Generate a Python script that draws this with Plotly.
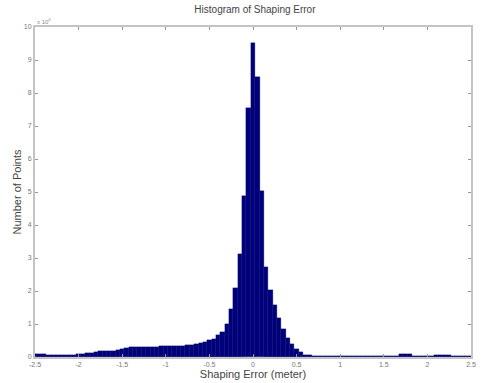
import plotly.graph_objects as go

# Bin centers (meters), bin width 0.05
bin_width = 0.05
bin_centers = [round(-2.5 + i * 0.05, 2) for i in range(101)]

# Counts (units of 1e4 points)
counts_e4 = [
    # -2.5 .. -2.05
    0.10, 0.10, 0.08, 0.07, 0.065, 0.06, 0.06, 0.065, 0.07, 0.075,
    # -2.0 .. -1.55
    0.08, 0.09, 0.11, 0.13, 0.15, 0.17, 0.18, 0.18, 0.19, 0.20,
    # -1.5 .. -1.05
    0.23, 0.27, 0.29, 0.30, 0.30, 0.29, 0.30, 0.31, 0.31, 0.32,
    # -1.0 .. -0.55
    0.32, 0.33, 0.34, 0.34, 0.34, 0.35, 0.37, 0.39, 0.42, 0.46,
    # -0.5 .. -0.05
    0.51, 0.56, 0.66, 0.76, 0.99, 1.44, 2.08, 3.11, 4.87, 7.56,
    # 0.0 .. 0.45
    9.53, 8.48, 5.02, 2.73, 2.04, 1.59, 1.19, 0.84, 0.59, 0.39,
    # 0.5 .. 0.95
    0.24, 0.14, 0.07, 0.05, 0.04, 0.03, 0.03, 0.025, 0.025, 0.02,
    # 1.0 .. 1.45
    0.02, 0.02, 0.02, 0.02, 0.025, 0.02, 0.02, 0.02, 0.025, 0.025,
    # 1.5 .. 1.95
    0.025, 0.03, 0.03, 0.04, 0.08, 0.10, 0.08, 0.03, 0.03, 0.03,
    # 2.0 .. 2.45
    0.03, 0.04, 0.05, 0.06, 0.06, 0.05, 0.03, 0.025, 0.02, 0.02,
    # 2.5
    0.02,
]
counts = [c * 1e4 for c in counts_e4]

x_ticks = [-2.5, -2, -1.5, -1, -0.5, 0, 0.5, 1, 1.5, 2, 2.5]
x_tick_text = ["-2.5", "-2", "-1.5", "-1", "-0.5", "0", "0.5", "1", "1.5", "2", "2.5"]
y_ticks = [i * 1e4 for i in range(11)]
y_tick_text = [str(i) for i in range(11)]

fig = go.Figure()
fig.add_trace(go.Bar(
    x=bin_centers, y=counts, width=bin_width,
    marker=dict(color="#00007c", line=dict(color="#000060", width=0.3)),
))

axis_common = dict(
    showline=True, linecolor="#c4c4c4", linewidth=2, mirror="ticks",
    ticks="inside", ticklen=3, tickcolor="#999999", tickwidth=1,
    showgrid=False, zeroline=False,
    tickfont=dict(family="Liberation Sans", size=7, color="#777777"),
)

fig.update_layout(
    width=481, height=383,
    margin=dict(l=35, r=5, t=27, b=21),
    paper_bgcolor="white", plot_bgcolor="white",
    showlegend=False, bargap=0,
    title=dict(text="Histogram of Shaping Error", x=0.53, xanchor="center",
               y=0.975, yanchor="middle",
               font=dict(family="Liberation Sans", size=10, color="#444444")),
    xaxis=dict(range=[-2.5, 2.5], tickvals=x_ticks, ticktext=x_tick_text,
               title=dict(text="Shaping Error (meter)", standoff=2,
                          font=dict(family="Liberation Sans", size=11, color="#444444")),
               **axis_common),
    yaxis=dict(range=[0, 1e5], tickvals=y_ticks, ticktext=y_tick_text,
               title=dict(text="Number of Points", standoff=0,
                          font=dict(family="Liberation Sans", size=11, color="#444444")),
               **axis_common),
)

fig.add_annotation(text="x 10<sup>4</sup>", xref="paper", yref="paper",
                   x=0.0, y=1.0, xanchor="left", yanchor="bottom", showarrow=False,
                   font=dict(family="Liberation Sans", size=6, color="#888888"))

fig.write_html("out.html")
